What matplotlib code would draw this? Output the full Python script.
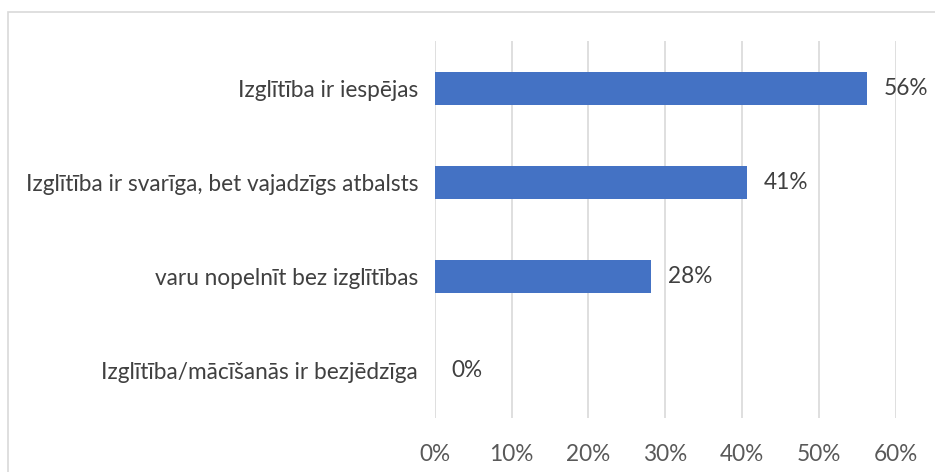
import matplotlib.pyplot as plt
from matplotlib.patches import Rectangle

# categories top to bottom
categories = [
    'Izglītība ir iespējas',
    'Izglītība ir svarīga, bet vajadzīgs atbalsts',
    'varu nopelnīt bez izglītības',
    'Izglītība/mācīšanās ir bezjēdzīga',
]
values = [56.3, 40.7, 28.2, 0.0]
value_labels = ['56%', '41%', '28%', '0%']
xticks = [0, 10, 20, 30, 40, 50, 60]
xtick_labels = ['0%', '10%', '20%', '30%', '40%', '50%', '60%']

plt.rcParams['font.family'] = ['Lato', 'DejaVu Sans']
fs = 16.3

fig = plt.figure(figsize=(9.35, 4.72), dpi=100)
ax = fig.add_axes([0.4649, 0.1144, 0.958 - 0.4649, 0.9131 - 0.1144])

# light border round the chart area
fig.patches.append(Rectangle((7.5 / 935, -0.1), 1.2, 1.1 - 12 / 472,
                             transform=fig.transFigure, fill=False,
                             edgecolor='#d9d9d9', linewidth=1.2))

ypos = list(range(len(categories)))
ax.barh(ypos, values, height=0.35, color='#4472C4', zorder=3)

for y, v, lab in zip(ypos, values, value_labels):
    ax.annotate(lab, (v, y), xytext=(12, 0), textcoords='offset points',
                va='center', ha='left', fontsize=fs, color='#404040')

ax.set_ylim(len(categories) - 0.5, -0.5)
ax.set_xlim(0, 60)
ax.set_yticks(ypos)
ax.set_yticklabels(categories, fontsize=fs, color='#404040')
ax.set_xticks(xticks)
ax.set_xticklabels(xtick_labels, fontsize=fs, color='#595959')
ax.tick_params(axis='y', length=0, pad=12)
ax.tick_params(axis='x', length=0, pad=19)
ax.grid(axis='x', color='#d9d9d9', linewidth=1.2, zorder=0)
for s in ax.spines.values():
    s.set_visible(False)

fig.savefig('out.png', dpi=100)
